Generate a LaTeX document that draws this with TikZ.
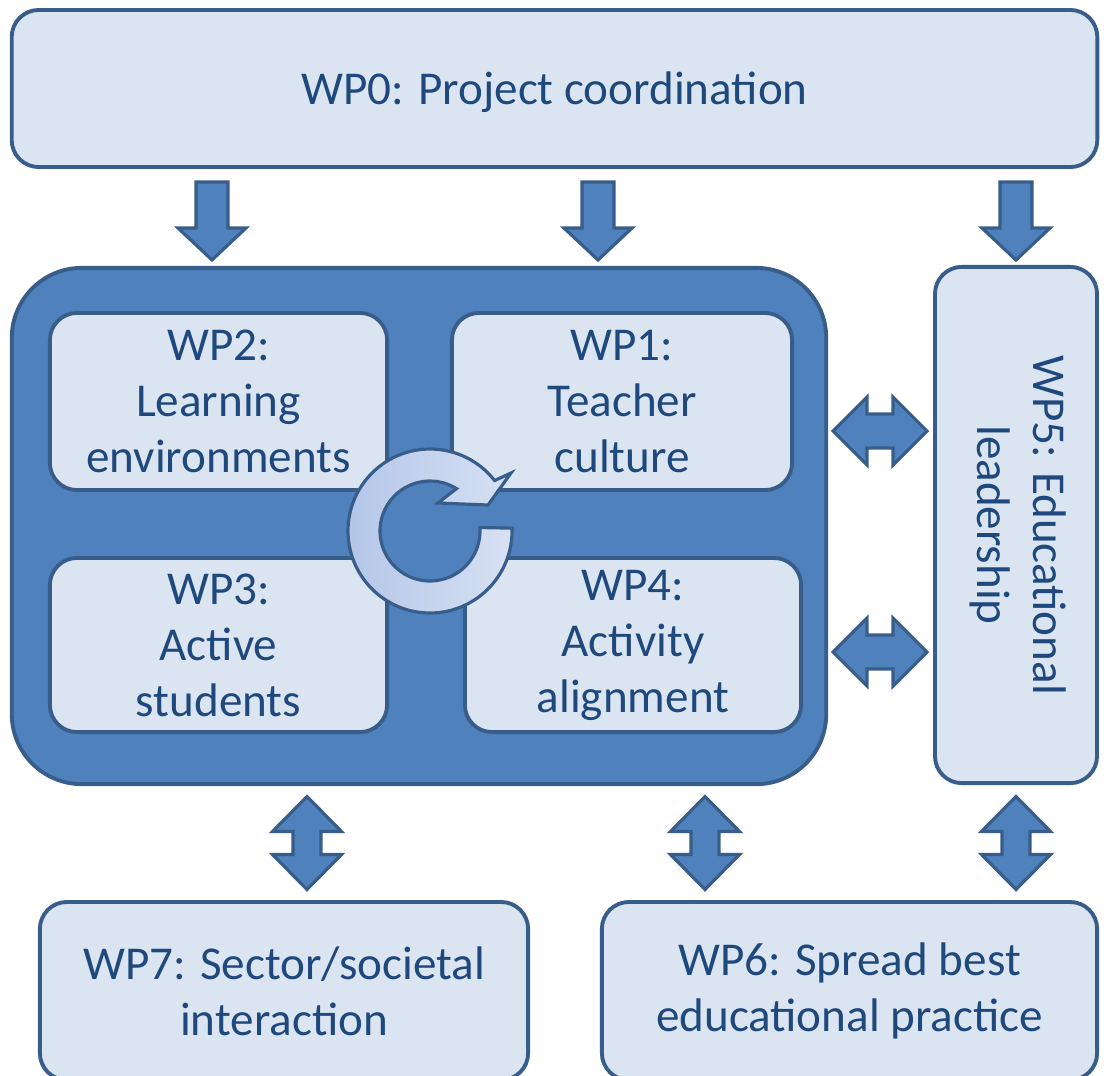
\documentclass[tikz,border=0pt]{standalone}
\usepackage{fontspec}
\setmainfont{Carlito}
\usetikzlibrary{calc}
\definecolor{boxfill}{HTML}{DBE5F1}
\definecolor{boxline}{HTML}{385D8A}
\definecolor{bigfill}{HTML}{4F81BD}
\definecolor{txt}{HTML}{1F497D}
\definecolor{ringL}{HTML}{B3C6E8}
\definecolor{ringR}{HTML}{D8E1F3}
\begin{document}
\begin{tikzpicture}[x=0.01cm,y=-0.01cm,
  wpfont/.style={text=txt, align=center, font=\fontsize{13.4}{15.9}\selectfont},
  wpbox/.style={draw=boxline, line width=1.1pt, fill=boxfill, rounded corners=0.27cm,
    wpfont, inner sep=0pt, outer sep=0pt},
  blockarrow/.style={draw=boxline, fill=bigfill, line width=0.9pt, line join=miter},
  downarrow/.pic={\draw[blockarrow] (-16,-39) -- (16,-39) -- (16,7) -- (34,7) -- (0,39) -- (-34,7) -- (-16,7) -- cycle;},
  hdarrow/.pic={\draw[blockarrow] (-47,0) -- (-13,-34) -- (-13,-17) -- (13,-17) -- (13,-34) -- (47,0) -- (13,34) -- (13,17) -- (-13,17) -- (-13,34) -- cycle;},
  vdarrow/.pic={\draw[blockarrow] (0,-46.5) -- (34.5,-11.5) -- (14,-11.5) -- (14,11.5) -- (34.5,11.5) -- (0,46.5) -- (-34.5,11.5) -- (-14,11.5) -- (-14,-11.5) -- (-34.5,-11.5) -- cycle;}
]
\useasboundingbox (0,0) rectangle (1109,1075);

% top box
\node[wpbox, minimum width=10.85cm, minimum height=1.57cm] (wp0) at (554.5,88.5) {};
\node[wpfont] (wp0t) at (554.5,92) {WP0: Project coordination};

% big core box
\node[draw=boxline, fill=bigfill, line width=1.1pt, rounded corners=0.7cm,
      minimum width=8.14cm, minimum height=5.16cm, inner sep=0pt, outer sep=0pt] (core) at (419,526) {};

% inner boxes
\node[wpbox, minimum width=3.37cm, minimum height=1.77cm] (wp2) at (218.5,401.5) {WP2:\\Learning\\environments};
\node[wpbox, minimum width=3.40cm, minimum height=1.77cm] (wp1) at (622,401.5) {WP1:\\Teacher\\culture};
\node[wpbox, minimum width=3.37cm, minimum height=1.74cm] (wp3) at (218.5,645) {WP3:\\Active\\students};
\node[wpbox, minimum width=3.36cm, minimum height=1.74cm] (wp4) at (633,645) {WP4:\\Activity\\alignment};

% right box
\node[wpbox, minimum width=1.62cm, minimum height=5.16cm] (wp5) at (1016,525) {};
\node[wpfont, rotate=-90] (wp5t) at (1018,525) {WP5: Educational\\leadership};

% bottom boxes
\node[wpbox, minimum width=4.88cm, minimum height=1.78cm] (wp7) at (284,991) {WP7: Sector/societal\\interaction};
\node[wpbox, minimum width=4.95cm, minimum height=1.78cm] (wp6) at (849.5,991) {WP6: Spread best\\educational practice};

% circular arrow
\draw[draw=boxline, line width=0.9pt, line join=miter, left color=ringL, right color=ringR]
  ([shift={(430,531)}]-2:82) arc[start angle=-2, end angle=322, radius=82]
  -- (511,473) -- (488,505) -- (438,503) -- ([shift={(430,531)}]302:50)
  arc[start angle=302, end angle=-4, radius=50] -- cycle;

% block arrows
\pic at (212,221) {downarrow};
\pic at (598,221) {downarrow};
\pic at (1016,221) {downarrow};
\pic at (880,431) {hdarrow};
\pic at (880,652) {hdarrow};
\pic at (307,843) {vdarrow};
\pic at (705,843) {vdarrow};
\pic at (1016,843) {vdarrow};
\end{tikzpicture}
\end{document}
